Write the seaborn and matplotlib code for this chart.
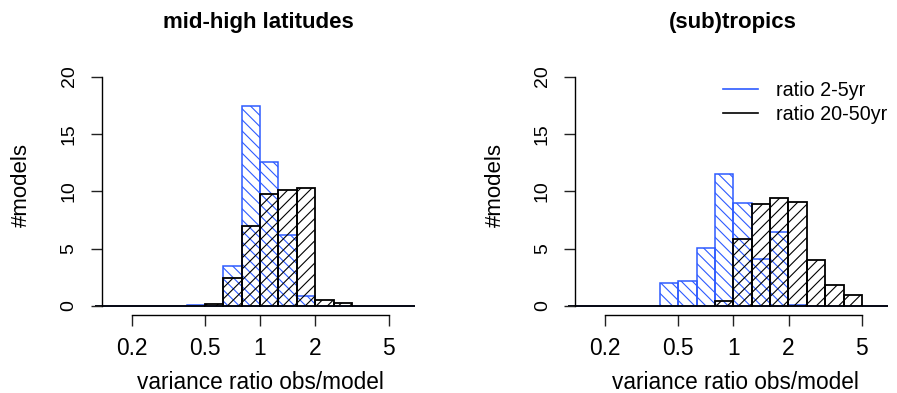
import numpy as np
import pandas as pd
import matplotlib
matplotlib.use("Agg")
import matplotlib.pyplot as plt
import seaborn as sns
from matplotlib.lines import Line2D
from matplotlib.ticker import FixedLocator, NullLocator

# ---- data ----
# centres of the histogram bins, in log10(variance ratio); bins are 0.1 wide in log10
log10_ratio_centers = [-0.85, -0.75, -0.65, -0.55, -0.45, -0.35, -0.25, -0.15, -0.05,
                       0.05, 0.15, 0.25, 0.35, 0.45, 0.55, 0.65, 0.75, 0.85]
midhigh_2_5yr   = [0, 0, 0, 0, 0, 0.05, 0, 3.45, 17.4, 12.55, 6.15, 0.85, 0, 0, 0, 0, 0, 0]
midhigh_20_50yr = [0, 0, 0, 0, 0, 0, 0.15, 2.4, 7.0, 9.75, 10.1, 10.3, 0.5, 0.25, 0, 0, 0, 0]
tropics_2_5yr   = [0, 0, 0, 0, 0, 2.05, 2.15, 5.1, 11.5, 9.0, 4.1, 6.45, 0.05, 0, 0, 0, 0, 0]
tropics_20_50yr = [0, 0, 0, 0, 0, 0, 0, 0, 0.4, 5.85, 8.85, 9.4, 9.1, 4.0, 1.85, 1.0, 0, 0]

panel_titles = ["mid-high latitudes", "(sub)tropics"]
series_labels = ["ratio 2-5yr", "ratio 20-50yr"]
x_ticks = [0.2, 0.5, 1, 2, 5]
x_tick_labels = ["0.2", "0.5", "1", "2", "5"]
y_ticks = [0, 5, 10, 15, 20]
y_tick_labels = ["0", "5", "10", "15", "20"]
x_label = "variance ratio obs/model"
y_label = "#models"

# ---- style ----
BLUE = "#2E5BFF"
BLACK = "#000000"
plt.rcParams["font.family"] = ["Liberation Sans", "DejaVu Sans"]
plt.rcParams["hatch.linewidth"] = 0.8
plt.rcParams["axes.linewidth"] = 1.0

fig = plt.figure(figsize=(8.97, 3.93), dpi=100)
W, H = 897.0, 393.0
ax_lefts = [95.0, 568.3]
ax_w, ax_top, ax_bot = 320.0, 67.4, 315.2
title_x = [0.511, 0.513]
xlabel_x = [0.516, 0.523]

panels = [(midhigh_2_5yr, midhigh_20_50yr), (tropics_2_5yr, tropics_20_50yr)]

for i, (blue_vals, black_vals) in enumerate(panels):
    ax = fig.add_axes([ax_lefts[i] / W, (H - ax_bot) / H, ax_w / W, (ax_bot - ax_top) / H])
    df = pd.DataFrame({
        "ratio": np.power(10.0, np.array(log10_ratio_centers)),
        "short": blue_vals,
        "long": black_vals,
    })
    sns.histplot(data=df, x="ratio", weights="short", bins=18, binrange=(-0.9, 0.9),
                 log_scale=True, fill=False, color=BLUE, hatch="\\\\\\",
                 linewidth=1.1, ax=ax)
    sns.histplot(data=df, x="ratio", weights="long", bins=18, binrange=(-0.9, 0.9),
                 log_scale=True, fill=False, color=BLACK, hatch="///",
                 linewidth=1.3, ax=ax)

    ax.set_xlim(10 ** -0.898, 10 ** 0.843)
    ax.set_ylim(-0.8, 20.8)
    ax.set_facecolor("none")
    ax.grid(False)

    for s in ["top", "right"]:
        ax.spines[s].set_visible(False)
    ax.spines["left"].set_position(("data", 10 ** -0.86))
    ax.spines["left"].set_bounds(0, 20)
    ax.spines["bottom"].set_bounds(0.2, 5)

    ax.xaxis.set_major_locator(FixedLocator(x_ticks))
    ax.xaxis.set_minor_locator(NullLocator())
    ax.set_xticks(x_ticks, x_tick_labels)
    ax.set_yticks(y_ticks, y_tick_labels, rotation=90, va="center")
    ax.tick_params(axis="both", direction="out", length=8, width=1.0, color="#222222")
    ax.tick_params(axis="x", labelsize=16.4, pad=8)
    ax.tick_params(axis="y", labelsize=14, pad=9.5)

    ax.set_title(panel_titles[i], fontsize=16, fontweight="bold",
                 x=title_x[i], y=1.158, pad=0)
    ax.set_xlabel(x_label, fontsize=16.3, va="baseline")
    ax.xaxis.set_label_coords(xlabel_x[i], -0.296)
    ax.set_ylabel(y_label, fontsize=16, va="center")
    ax.yaxis.set_label_coords(-0.229, 0.525)

    if i == 1:
        handles = [Line2D([], [], color=BLUE, lw=1.2), Line2D([], [], color=BLACK, lw=1.2)]
        ax.legend(handles, series_labels, loc="upper left",
                  bbox_to_anchor=(0.4834, 0.946), frameon=False, fontsize=14.2,
                  borderpad=0, borderaxespad=0, handlelength=1.78,
                  handletextpad=0.89, labelspacing=0.25)

fig.savefig("out.png", dpi=100)
